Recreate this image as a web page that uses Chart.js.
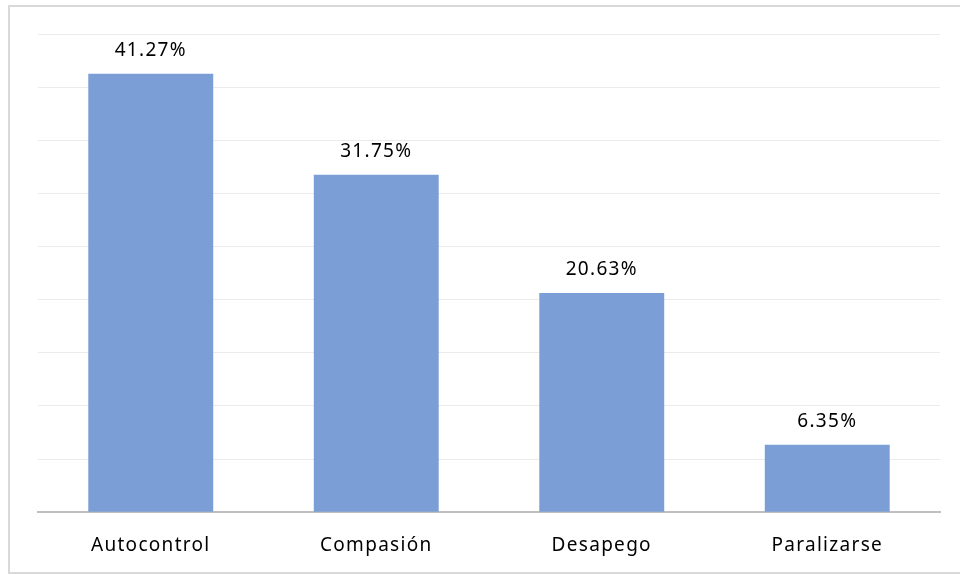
<!DOCTYPE html>
<html>
<head>
<meta charset="utf-8">
<script src="https://cdn.jsdelivr.net/npm/chart.js@4/dist/chart.umd.min.js"></script>
<style>
  html, body { margin: 0; padding: 0; background: #fff; }
  #wrap { position: relative; width: 960px; height: 575px; overflow: hidden; }
  #frame {
    position: absolute; left: 8px; top: 5px; width: 980px; height: 565px;
    border: 2px solid #d9d9d9; border-right: none;
  }
  #myChart { position: absolute; left: 0; top: 0; }
</style>
</head>
<body>
<div id="wrap">
  <div id="frame"></div>
  <canvas id="myChart" width="960" height="575"></canvas>
</div>
<script>
const categories = ["Autocontrol", "Compasión", "Desapego", "Paralizarse"];
const percentages = [41.27, 31.75, 20.63, 6.35];

const FONT = "'Noto Sans', 'Open Sans', sans-serif";
const SPACING = "1.3px";

// slightly spaced lettering for every text on the canvas
const spacedText = {
  id: "spacedText",
  beforeDraw(chart) {
    chart.ctx.letterSpacing = SPACING;
  },
};

// writes the percentage above each bar
const valueLabels = {
  id: "valueLabels",
  afterDatasetsDraw(chart) {
    const ctx = chart.ctx;
    const meta = chart.getDatasetMeta(0);
    ctx.save();
    ctx.letterSpacing = SPACING;
    ctx.font = `19px ${FONT}`;
    ctx.fillStyle = "#000";
    ctx.textAlign = "center";
    ctx.textBaseline = "middle";
    meta.data.forEach((bar, i) => {
      ctx.fillText(percentages[i].toFixed(2) + "%", bar.x, bar.y - 23);
    });
    ctx.restore();
  },
};

new Chart("myChart", {
  type: "bar",
  data: {
    labels: categories,
    datasets: [
      {
        data: percentages,
        backgroundColor: "rgb(123,158,214)",
        borderWidth: 0,
        barPercentage: 0.554,
        categoryPercentage: 1,
      },
    ],
  },
  options: {
    responsive: false,
    animation: false,
    layout: { padding: { left: 38, right: 20, top: 34, bottom: -4 } },
    plugins: { legend: { display: false }, tooltip: { enabled: false } },
    scales: {
      x: {
        grid: { display: false, drawTicks: false },
        border: { color: "#bfbfbf", width: 2 },
        ticks: { color: "#000", font: { family: FONT, size: 19 }, padding: 22 },
      },
      y: {
        min: 0,
        max: 45,
        ticks: { display: false, stepSize: 5 },
        grid: { color: "#ebebeb", drawTicks: false },
        border: { display: false },
      },
    },
  },
  plugins: [spacedText, valueLabels],
});
</script>
</body>
</html>
